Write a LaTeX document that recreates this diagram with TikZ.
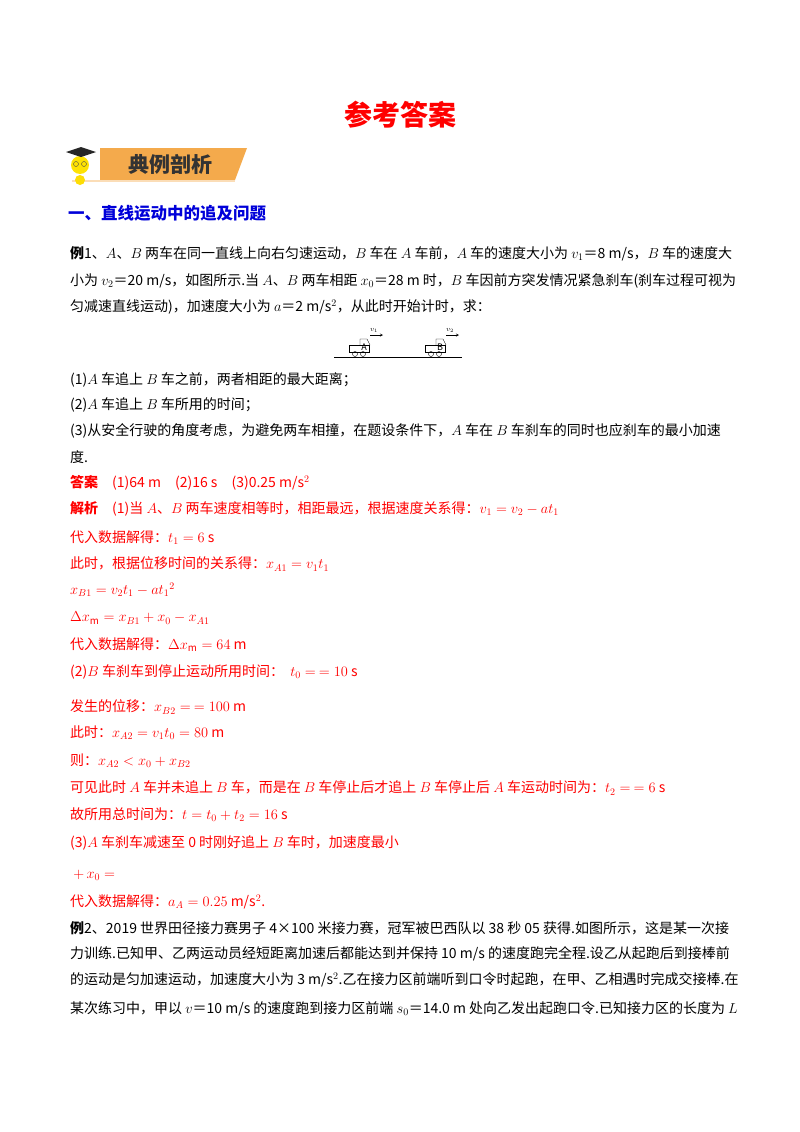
\documentclass[tikz,border=0pt]{standalone}
\usepackage{fontspec}
\setmainfont{Noto Sans CJK SC}
\begin{document}
\begin{tikzpicture}[x=1pt,y=-1pt,
 ln/.style={anchor=west,inner sep=0,font=\fontsize{14}{16}\selectfont},
 rd/.style={ln,text=red}]
\useasboundingbox (0,0) rectangle (800,1132);
\fill[white] (0,0) rectangle (800,1132);
\node[text=red,font=\fontsize{28}{32}\selectfont\bfseries] (title) at (400,115) {参考答案};
% banner
\definecolor{bann}{HTML}{F4AA4C}
\fill[bann] (100,148) -- (247,148) -- (235,180) -- (100,180) -- cycle;
\fill[bann!40] (72,180) rectangle (235,182);
\fill[yellow!85!orange] (80,165) circle (9);
\draw[black!70,thin] (76,164) circle (2.5) (84,164) circle (2.5);
\fill[yellow!80!orange] (80,180) ellipse (5 and 5);
\fill[black!85] (66,152) -- (81,147) -- (96,152) -- (81,157) -- cycle;
\node[text=black!80,font=\fontsize{21}{24}\selectfont\bfseries] (ban) at (170,164) {典例剖析};
\node[ln,text=blue!85!black,font=\fontsize{16.5}{20}\selectfont\bfseries] (h1) at (68,213) {一、直线运动中的追及问题};
\node[ln] (l1) at (70,254) {\textbf{例}1、$A$、$B$ 两车在同一直线上向右匀速运动，$B$ 车在 $A$ 车前，$A$ 车的速度大小为 $v_1$＝8 m/s，$B$ 车的速度大};
\node[ln] (l2) at (70,281) {小为 $v_2$＝20 m/s，如图所示.当 $A$、$B$ 两车相距 $x_0$＝28 m 时，$B$ 车因前方突发情况紧急刹车(刹车过程可视为};
\node[ln] (l3) at (70,307) {匀减速直线运动)，加速度大小为 $a$＝2 m/s$^2$，从此时开始计时，求：};
% figure
\draw (334,357) -- (462,357);
\foreach \cx/\lab/\vv in {361/A/1,437/B/2}{
 \draw (\cx-12,345) rectangle (\cx+8,352);
 \draw (\cx-1,345) -- (\cx-1,339) -- (\cx+6,339) -- (\cx+9,345);
 \draw (\cx-6,354) circle (2.5) (\cx+2,354) circle (2.5);
 \node[font=\fontsize{9}{9}\selectfont\itshape,inner sep=0] at (\cx+3,347) {\lab};
 \draw[-stealth,thin] (\cx+9,335) -- (\cx+22,335);
 \node[font=\fontsize{7}{7}\selectfont,inner sep=0] at (\cx+13,330) {$v_\vv$};
}
\node[ln] (q1) at (70,380) {(1)$A$ 车追上 $B$ 车之前，两者相距的最大距离；};
\node[ln] (q2) at (70,405) {(2)$A$ 车追上 $B$ 车所用的时间；};
\node[ln] (q3) at (70,431) {(3)从安全行驶的角度考虑，为避免两车相撞，在题设条件下，$A$ 车在 $B$ 车刹车的同时也应刹车的最小加速};
\node[ln] (q4) at (70,457) {度.};
\node[rd] (a0) at (70,483) {\textbf{答案}\quad(1)64 m\quad(2)16 s\quad(3)0.25 m/s$^2$};
\node[rd] (a1) at (70,509) {\textbf{解析}\quad(1)当 $A$、$B$ 两车速度相等时，相距最远，根据速度关系得：$v_1=v_2-at_1$};
\node[rd] (a2) at (70,538) {代入数据解得：$t_1=6$ s};
\node[rd] (a3) at (70,564) {此时，根据位移时间的关系得：$x_{A1}=v_1t_1$};
\node[rd] (a4) at (70,590) {$x_{B1}=v_2t_1-at_1{}^{2}$};
\node[rd] (a5) at (70,618) {$\Delta x_{\rm m}=x_{B1}+x_0-x_{A1}$};
\node[rd] (a6) at (70,645) {代入数据解得：$\Delta x_{\rm m}=64$ m};
\node[rd] (a7) at (70,672) {(2)$B$ 车刹车到停止运动所用时间：\ \ $t_0=\ =10$ s};
\node[rd] (a8) at (70,707) {发生的位移：$x_{B2}=\ =100$ m};
\node[rd] (a9) at (70,733) {此时：$x_{A2}=v_1t_0=80$ m};
\node[rd] (a10) at (70,761) {则：$x_{A2}<x_0+x_{B2}$};
\node[rd] (a11) at (70,788) {可见此时 $A$ 车并未追上 $B$ 车，而是在 $B$ 车停止后才追上 $B$ 车停止后 $A$ 车运动时间为：$t_2=\ =6$ s};
\node[rd] (a12) at (70,815) {故所用总时间为：$t=t_0+t_2=16$ s};
\node[rd] (a13) at (70,843) {(3)$A$ 车刹车减速至 0 时刚好追上 $B$ 车时，加速度最小};
\node[rd] (a14) at (70,875) {\ $+\,x_0=$};
\node[rd] (a15) at (70,902) {代入数据解得：$a_A=0.25$ m/s$^2$.};
\node[ln] (e1) at (70,928) {\textbf{例}2、2019 世界田径接力赛男子 4×100 米接力赛，冠军被巴西队以 38 秒 05 获得.如图所示，这是某一次接};
\node[ln] (e2) at (70,954) {力训练.已知甲、乙两运动员经短距离加速后都能达到并保持 10 m/s 的速度跑完全程.设乙从起跑后到接棒前};
\node[ln] (e3) at (70,980) {的运动是匀加速运动，加速度大小为 3 m/s$^2$.乙在接力区前端听到口令时起跑，在甲、乙相遇时完成交接棒.在};
\node[ln] (e4) at (70,1009) {某次练习中，甲以 $v$＝10 m/s 的速度跑到接力区前端 $s_0$＝14.0 m 处向乙发出起跑口令.已知接力区的长度为 $L$};
\end{tikzpicture}
\end{document}
